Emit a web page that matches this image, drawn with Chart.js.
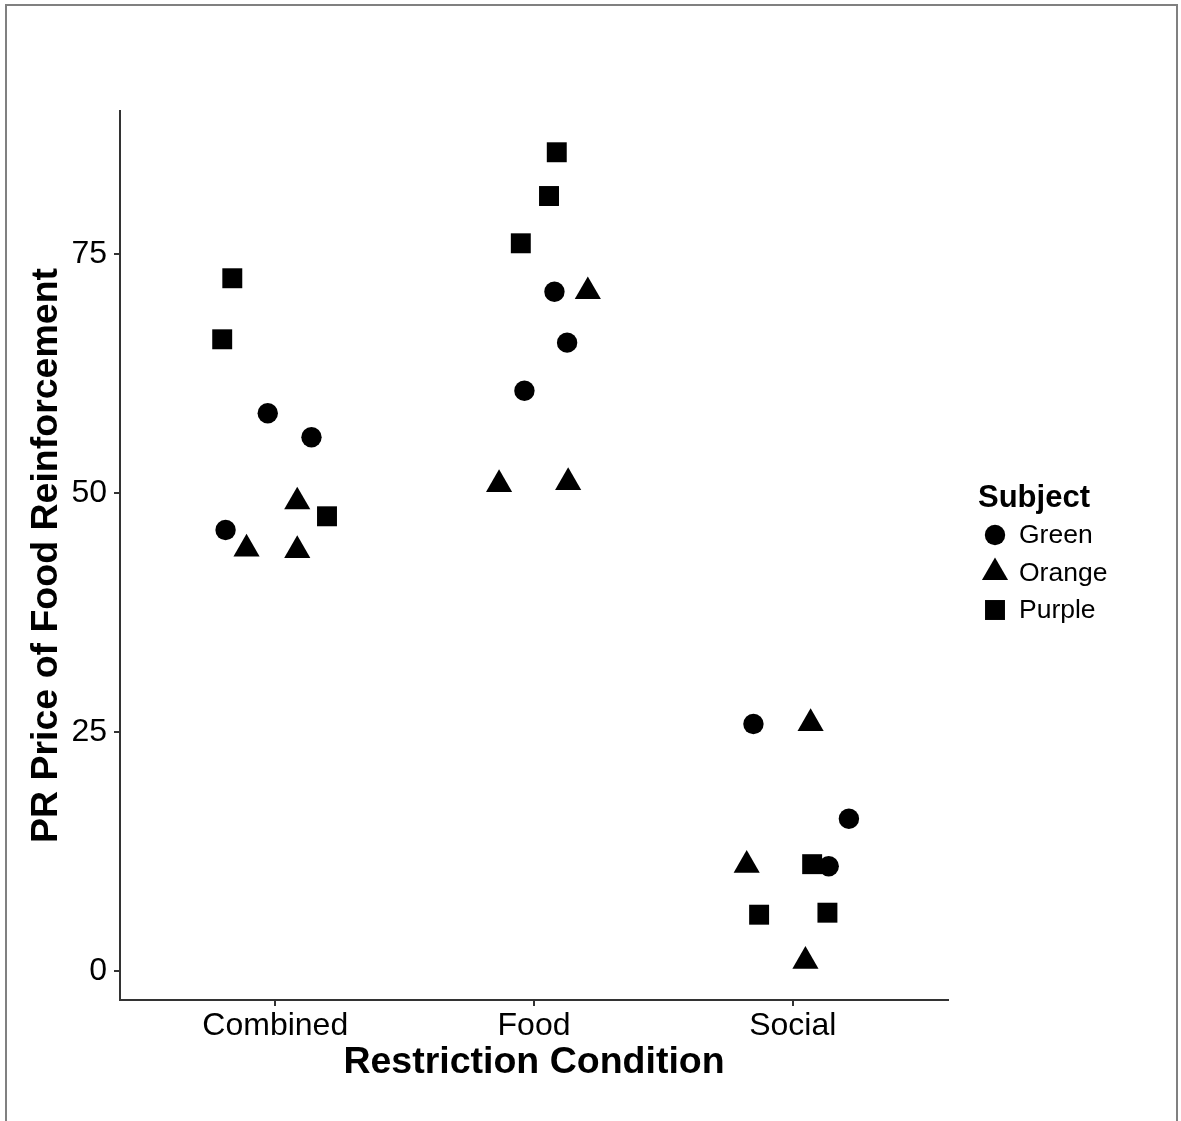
<!DOCTYPE html>
<html>
<head>
<meta charset="utf-8">
<script src="https://cdn.jsdelivr.net/npm/chart.js@4"></script>
<style>
  html, body { margin: 0; padding: 0; background: #fff; overflow: hidden; }
  #wrap { position: relative; width: 1181px; height: 1121px; }
  #frame { position: absolute; left: 5px; top: 4px; width: 1169px; height: 1200px; border: 2px solid #808080; border-bottom: none; pointer-events: none; }
</style>
</head>
<body>
<div id="wrap">
  <canvas id="chart_pr"></canvas>
  <div id="frame"></div>
</div>
<script>
// categories and tick values
const conditions = ['Combined', 'Food', 'Social'];
const conditionTicks = [1, 2, 3];
const priceTicks = [0, 25, 50, 75];
const subjects = ['Green', 'Orange', 'Purple'];

// jittered x positions (1 = Combined, 2 = Food, 3 = Social) and PR price values
const greenX  = [0.971, 1.140, 0.808, 2.079, 2.128, 1.963, 2.848, 3.217, 3.139];
const greenY  = [58.35, 55.84, 46.14, 71.08, 65.75, 60.72, 25.83, 15.91, 10.93];
const orangeX = [1.085, 0.889, 1.085, 2.208, 1.865, 2.132, 3.069, 2.822, 3.049];
const orangeY = [49.09, 44.15, 44.00, 71.10, 50.91, 51.12, 25.89, 11.05, 1.00];
const purpleX = [0.834, 0.795, 1.200, 2.088, 2.058, 1.949, 3.075, 2.870, 3.134];
const purpleY = [72.49, 66.10, 47.57, 85.68, 81.10, 76.15, 11.15, 5.86, 6.07];

const pts = (xs, ys) => xs.map((x, i) => ({ x: x, y: ys[i] }));
const FONT = '"Liberation Sans", Arial, Helvetica, sans-serif';
const axisCol = '#333333';

// legend drawn by hand so it sits where ggplot put it
const subjectLegend = {
    id: 'subjectLegend',
    afterDraw(chart) {
        const ctx = chart.ctx;
        ctx.save();
        ctx.fillStyle = '#000';
        ctx.textBaseline = 'middle';
        ctx.textAlign = 'left';
        ctx.font = 'bold 31px ' + FONT;
        ctx.fillText('Subject', 978, 498);
        ctx.font = '26.5px ' + FONT;
        chart.data.datasets.forEach((ds, i) => {
            const y = 535 + i * 37.5;
            Chart.helpers.drawPoint(ctx, { pointStyle: ds.pointStyle, radius: ds.pointRadius, rotation: 0, borderWidth: 0 }, 995, y);
            ctx.fillStyle = '#000';
            ctx.fillText(ds.label, 1019, y + 1);
        });
        ctx.restore();
    }
};

new Chart(document.getElementById('chart_pr').getContext('2d'), {
    type: 'scatter',
    data: { datasets: [
        { label: subjects[0], data: pts(greenX, greenY), pointStyle: 'circle', pointRadius: 10.2, backgroundColor: '#000', borderWidth: 0 },
        { label: subjects[1], data: pts(orangeX, orangeY), pointStyle: 'triangle', pointRadius: 15.1, backgroundColor: '#000', borderWidth: 0 },
        { label: subjects[2], data: pts(purpleX, purpleY), pointStyle: 'rect', pointRadius: 14.1, backgroundColor: '#000', borderWidth: 0 }
    ] },
    options: {
        responsive: true, maintainAspectRatio: false, animation: false,
        layout: { padding: { top: 111, right: 233, left: 0, bottom: 0 } },
        plugins: { legend: { display: false }, tooltip: { enabled: false } },
        elements: { point: { hoverRadius: 0 } },
        scales: {
            x: {
                type: 'linear', min: 0.4, max: 3.6,
                afterBuildTicks: s => { s.ticks = conditionTicks.map(v => ({ value: v })); },
                afterFit: s => { s.height = 121; },
                ticks: { callback: v => conditions[v - 1], color: '#000', font: { family: FONT, size: 32 }, padding: 1, maxRotation: 0, autoSkip: false },
                grid: { drawOnChartArea: false, drawTicks: true, tickLength: 6, color: axisCol, lineWidth: 2 },
                border: { display: true, color: axisCol, width: 2 },
                title: { display: true, text: 'Restriction Condition', color: '#000', font: { family: FONT, size: 37.5, weight: 'bold', lineHeight: 1.2 }, padding: { top: 0, bottom: 36 } }
            },
            y: {
                type: 'linear', min: -3.07, max: 90.0,
                afterBuildTicks: s => { s.ticks = priceTicks.map(v => ({ value: v })); },
                afterFit: s => { s.width = 120; },
                ticks: { color: '#000', font: { family: FONT, size: 32 }, padding: 7 },
                grid: { drawOnChartArea: false, drawTicks: true, tickLength: 6, color: axisCol, lineWidth: 2 },
                border: { display: true, color: axisCol, width: 2 },
                title: { display: true, text: 'PR Price of Food Reinforcement', color: '#000', font: { family: FONT, size: 37.5, weight: 'bold', lineHeight: 1.2 }, padding: { top: 24, bottom: 0 } }
            }
        }
    },
    plugins: [subjectLegend]
});
</script>
</body>
</html>
